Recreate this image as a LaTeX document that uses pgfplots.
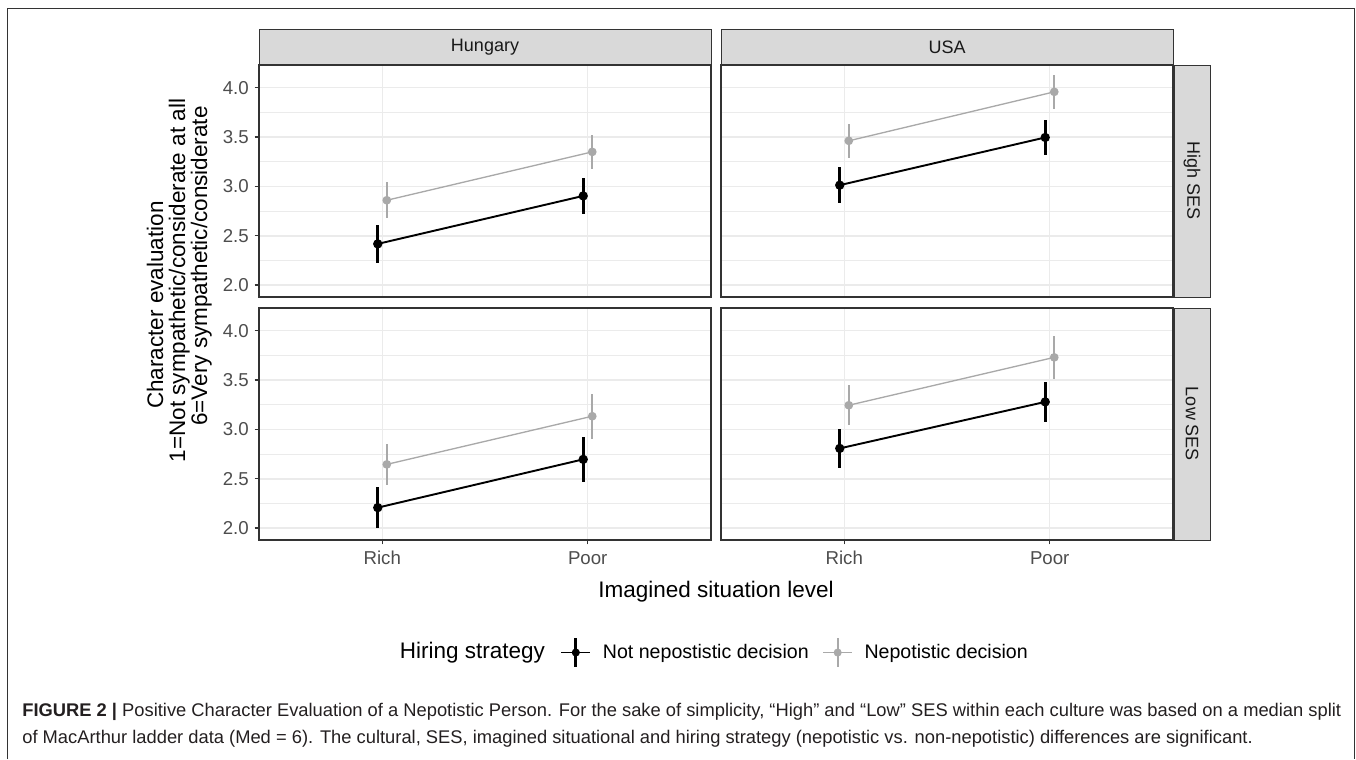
\documentclass[border=0pt]{standalone}
\usepackage{pgfplots}
\pgfplotsset{compat=1.18}
\usepackage{fontspec}
\setmainfont{Liberation Sans}
\definecolor{stripfill}{HTML}{D9D9D9}
\definecolor{c20}{HTML}{333333}
\definecolor{c30}{HTML}{4D4D4D}
\definecolor{gridc}{HTML}{EBEBEB}
\definecolor{dgrey}{HTML}{A9A9A9}
\definecolor{captc}{HTML}{231F20}
\pgfplotsset{
  panel/.style={
    scale only axis, width=271.2pt, height=139.2pt,
    xmin=0.4, xmax=2.6, ymin=1.88, ymax=4.23,
    axis line style={draw=c20, line width=0.8pt},
    xtick={1,2}, ytick={2,2.5,3,3.5,4}, minor ytick={2.25,2.75,3.25,3.75},
    xtick pos=bottom, ytick pos=left,
    grid=both,
    major grid style={draw=gridc, line width=0.9pt},
    minor grid style={draw=gridc, line width=0.5pt},
    tick align=outside, major tick length=2.6pt, minor tick length=0pt,
    tick style={draw=c20, line width=0.8pt},
    xticklabels={}, yticklabels={},
    /pgf/number format/assume math mode=true,
    ticklabel style={font=\fontsize{11.2}{13}\selectfont, text=c30},
    xticklabel style={yshift=-0.6pt},
  },
  notx/.style={xtick style={/pgfplots/major tick length=0pt}},
  noty/.style={ytick style={/pgfplots/major tick length=0pt}},
  labx/.style={xticklabels={Rich,Poor}},
  laby/.style={yticklabels={2.0,2.5,3.0,3.5,4.0}},
  sblack/.style={black, line width=1.15pt, mark=*, mark size=2.2pt, mark options={solid, fill=black},
    error bars/.cd, y dir=both, y explicit, error mark=none,
    error bar style={line width=1.9pt, black}},
  sgrey/.style={dgrey, line width=0.8pt, mark=*, mark size=2.2pt, mark options={solid, fill=dgrey},
    error bars/.cd, y dir=both, y explicit, error mark=none,
    error bar style={line width=1.2pt, dgrey}},
}
\begin{document}
\begin{tikzpicture}
\path[use as bounding box] (0pt,0pt) rectangle (813.6pt,-455.4pt);
% frame
\draw[black!80, line width=0.6pt] (4.2pt,-455.4pt) -- (4.2pt,-4.8pt) -- (812.4pt,-4.8pt) -- (812.4pt,-455.4pt);

% strips
\filldraw[fill=stripfill, draw=c20, line width=0.6pt] (155.4pt,-17.4pt) rectangle (426.6pt,-39pt);
\filldraw[fill=stripfill, draw=c20, line width=0.6pt] (432.6pt,-17.4pt) rectangle (703.8pt,-39pt);
\filldraw[fill=stripfill, draw=c20, line width=0.6pt] (704.4pt,-39pt) rectangle (726pt,-178.2pt);
\filldraw[fill=stripfill, draw=c20, line width=0.6pt] (704.4pt,-184.8pt) rectangle (726pt,-324pt);
\node[font=\fontsize{10.8}{12}\selectfont, text=black!90] at (291pt,-28.2pt) {Hungary};
\node[font=\fontsize{10.8}{12}\selectfont, text=black!90] at (568.2pt,-28.2pt) {USA};
\node[font=\fontsize{10.8}{12}\selectfont, text=black!90, rotate=-90] at (715.2pt,-108.6pt) {High SES};
\node[font=\fontsize{10.8}{12}\selectfont, text=black!90, rotate=-90] at (715.2pt,-254.4pt) {Low SES};

% Top-left: Hungary, High SES
\begin{axis}[panel, notx, laby, at={(155.4pt,-39pt)}, anchor=north west]
\addplot[sblack] coordinates {(0.978,2.418) +- (0,0.19) (1.978,2.904) +- (0,0.18)};
\addplot[sgrey] coordinates {(1.022,2.860) +- (0,0.18) (2.022,3.350) +- (0,0.17)};
\end{axis}
% Top-right: USA, High SES
\begin{axis}[panel, notx, noty, at={(432.6pt,-39pt)}, anchor=north west]
\addplot[sblack] coordinates {(0.978,3.013) +- (0,0.18) (1.978,3.496) +- (0,0.18)};
\addplot[sgrey] coordinates {(1.022,3.462) +- (0,0.17) (2.022,3.958) +- (0,0.17)};
\end{axis}
% Bottom-left: Hungary, Low SES
\begin{axis}[panel, labx, laby, at={(155.4pt,-184.8pt)}, anchor=north west,
  legend style={at={(0.666,-0.485)}, anchor=west, draw=none, fill=none, inner sep=0pt,
    font=\fontsize{11.75}{14}\selectfont,
    /tikz/every odd column/.append style={column sep=5pt},
    /tikz/every even column/.append style={column sep=6.3pt}},
  legend columns=2]
\addplot[forget plot, sblack] coordinates {(0.978,2.208) +- (0,0.21) (1.978,2.697) +- (0,0.225)};
\addplot[forget plot, sgrey] coordinates {(1.022,2.646) +- (0,0.21) (2.022,3.134) +- (0,0.23)};
\addlegendimage{legend image code/.code={
  \draw[black, line width=1.15pt] (0pt,0pt) -- (17.4pt,0pt);
  \draw[black, line width=1.6pt] (8.7pt,-8.5pt) -- (8.7pt,8.5pt);
  \fill[black] (8.7pt,0pt) circle (2.2pt);}}
\addlegendentry{Not nepostistic decision}
\addlegendimage{legend image code/.code={
  \draw[dgrey, line width=0.8pt] (0pt,0pt) -- (17.4pt,0pt);
  \draw[dgrey, line width=1.1pt] (8.7pt,-8.5pt) -- (8.7pt,8.5pt);
  \fill[dgrey] (8.7pt,0pt) circle (2.2pt);}}
\addlegendentry{Nepotistic decision}
\end{axis}
% Bottom-right: USA, Low SES
\begin{axis}[panel, labx, noty, at={(432.6pt,-184.8pt)}, anchor=north west]
\addplot[sblack] coordinates {(0.978,2.808) +- (0,0.20) (1.978,3.279) +- (0,0.205)};
\addplot[sgrey] coordinates {(1.022,3.245) +- (0,0.205) (2.022,3.730) +- (0,0.215)};
\end{axis}

% axis titles
\node[font=\fontsize{13.5}{16}\selectfont, anchor=base] at (429.6pt,-358.2pt) {Imagined situation level};
\node[font=\fontsize{13.5}{16}\selectfont, anchor=base, rotate=90] at (97.8pt,-183pt) {Character evaluation};
\node[font=\fontsize{13.5}{16}\selectfont, anchor=base, rotate=90] at (111pt,-168.3pt) {1=Not sympathetic/considerate at all};
\node[font=\fontsize{13.5}{16}\selectfont, anchor=base, rotate=90] at (124.2pt,-159.6pt) {6=Very sympathetic/considerate};
\node[font=\fontsize{13.5}{16}\selectfont, anchor=base] at (283.5pt,-395pt) {Hiring strategy};

% caption
\node[font=\fontsize{11}{13}\selectfont, text=captc, anchor=base west, inner sep=0pt] at (13.2pt,-430pt)
  {\textbf{FIGURE 2 |} Positive Character Evaluation of a Nepotistic Person. For the sake of simplicity, “High” and “Low” SES within each culture was based on a median split};
\node[font=\fontsize{11}{13}\selectfont, text=captc, anchor=base west, inner sep=0pt] at (13.2pt,-446pt)
  {of MacArthur ladder data (Med = 6). The cultural, SES, imagined situational and hiring strategy (nepotistic vs. non-nepotistic) differences are significant.};
\end{tikzpicture}
\end{document}
